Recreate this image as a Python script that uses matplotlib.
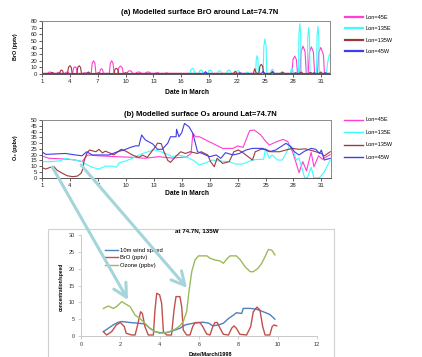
import matplotlib
matplotlib.use('Agg')
import matplotlib.pyplot as plt
from matplotlib.patches import Rectangle, ConnectionPatch
from matplotlib.lines import Line2D

plt.rcParams['font.family'] = ['Liberation Sans', 'DejaVu Sans']

# ---------------- data ----------------
series_labels = ['Lon=45E', 'Lon=135E', 'Lon=135W', 'Lon=45W']
series_colors = ['#ff3fd2', '#3ffcfc', '#9c3a3a', '#3e3ee6']
day_ticks = [1, 4, 7, 10, 13, 16, 19, 22, 25, 28, 31]

# (a) BrO (pptv)
bro_45e_day = [1.0, 1.6, 1.7, 1.85, 2.0, 2.1, 2.6, 2.68, 2.8, 2.92, 3.0, 3.5, 3.58, 3.7, 3.82, 3.9,
               4.3, 4.4, 4.55, 4.7, 4.8, 5.4, 5.6, 5.8, 6.3, 6.4, 6.55, 6.7, 6.8, 7.2, 7.28, 7.4, 7.52, 7.6,
               8.25, 8.35, 8.5, 8.65, 8.75, 9.15, 9.27, 9.45, 9.63, 9.75, 10.15, 10.27, 10.45, 10.63, 10.75,
               11.1, 11.22, 11.4, 11.58, 11.7, 12.1, 12.22, 12.4, 12.58, 12.7, 13.1, 13.4, 13.7, 14.2, 14.4, 14.6,
               27.9, 28.02, 28.2, 28.38, 28.5, 28.75, 28.89, 29.1, 29.31, 29.45, 29.65, 29.79, 30.0, 30.21, 30.35,
               30.65, 30.79, 31.0, 31.2, 31.3, 31.4, 31.95]
bro_45e_val = [1, 1, 2.4, 3, 2.4, 1, 1, 2, 2.5, 2, 1, 1, 2.4, 3, 2.4, 1,
               1, 9, 11, 9, 1, 1, 2, 1, 1, 16, 20, 16, 1, 1, 6.5, 8, 6.5, 1,
               1, 16, 20, 16, 1, 1, 9.6, 12, 9.6, 1, 1, 4, 5, 4, 1,
               1, 2.5, 3, 2.5, 1, 1, 2.5, 3, 2.5, 1, 1, 2, 1, 1, 1.8, 1,
               1, 22, 27, 22, 1, 1, 34, 42, 34, 1, 1, 33, 41, 33, 1,
               1, 32, 40, 33, 28, 1, 1]

bro_135e_day = [1.0, 16.95, 17.05, 17.2, 17.35, 17.45, 17.85, 17.95, 18.1, 18.25, 18.35,
                18.85, 18.95, 19.1, 19.25, 19.35, 19.85, 19.95, 20.1, 20.25, 20.35,
                20.85, 20.95, 21.1, 21.25, 21.35, 21.85, 21.95, 22.1, 22.25, 22.35,
                22.9, 23.1, 23.3, 24.0, 24.06, 24.15, 24.24, 24.3, 24.8, 24.88, 25.0, 25.12, 25.2,
                25.6, 25.68, 25.8, 25.92, 26.0, 26.6, 26.8, 27.0, 27.75, 27.81, 27.9, 27.99, 28.05,
                28.6, 28.66, 28.75, 28.84, 28.9, 29.55, 29.61, 29.7, 29.79, 29.85,
                30.55, 30.61, 30.7, 30.79, 30.85, 31.6, 31.78, 31.95]
bro_135e_val = [0.5, .5, 6.9, 8.6, 6.9, .5, .5, 4.8, 6, 4.8, .5,
                .5, 4.8, 6, 4.8, .5, .5, 4, 5, 4, .5,
                .5, 4.8, 6, 4.8, .5, .5, 4, 5, 4, .5,
                .5, 3, .5, .5, 22, 27.6, 22, .5, .5, 42, 53, 42, .5,
                .5, 5.6, 7, 5.6, .5, .5, 3, .5, .5, 6.9, 8.6, 6.9, .5,
                .5, 61, 76, 61, .5, .5, 56, 70, 56, .5,
                .5, 58, 72, 58, .5, .5, 20, 30]

bro_135w_day = [1.0, 1.9, 2.1, 2.3, 2.9, 2.98, 3.1, 3.22, 3.3, 3.75, 3.85, 4.0, 4.15, 4.25,
                4.75, 4.85, 5.0, 5.15, 5.25, 5.8, 6.0, 6.2, 6.9, 7.1, 7.3, 8.75, 8.85, 9.0, 9.15, 9.25,
                9.8, 10.0, 10.2, 21.6, 21.8, 22.0, 23.75, 23.9, 24.05, 24.35, 24.45, 24.6, 24.75, 24.85,
                25.6, 25.8, 26.0, 26.7, 26.9, 27.1, 28.7, 28.9, 29.1, 29.7, 29.9, 30.1, 30.8, 31.0, 31.2, 31.95]
bro_135w_val = [0.8, .8, 2.5, .8, .8, 4.8, 6, 4.8, .8, .8, 10, 12.5, 10, .8,
                .8, 10, 12.5, 10, .8, .8, 3, .8, .8, 2, .8, .8, 6.9, 8.6, 6.9, .8,
                .8, 2, .8, .8, 4, .8, .8, 8, 1.5, .8, 11.7, 14.6, 11.7, .8,
                .8, 4, .8, .8, 3, .8, .8, 3, .8, .8, 2.5, .8, .8, 3, .8, .8]

bro_45w_day = [1.0, 5.7, 5.9, 6.1, 18.4, 18.6, 18.8, 22.1, 22.3, 22.5, 24.6, 24.8, 25.0,
               25.6, 25.8, 26.0, 28.1, 28.3, 28.5, 30.1, 30.3, 30.5, 31.3, 31.5, 31.7, 31.95]
bro_45w_val = [0.5, .5, 1.5, .5, .5, 3.5, .5, .5, 2, .5, .5, 4, .5,
               .5, 2.5, .5, .5, 2, .5, .5, 2, .5, .5, 2, .5, .5]

# (b) O3 (ppbv)
o3_45e_day = [1, 1.75, 3.5, 4.6, 5.3, 5.6, 5.9, 7, 9, 11, 12, 13.5, 15, 16.5, 17.0, 17.2, 17.5, 17.9,
              19.3, 20.4, 21.5, 22.0, 22.6, 22.9, 23.3, 23.8, 24.5, 24.9, 25.4, 26.2, 26.9, 27.4, 27.9,
              28.3, 28.6, 29.0, 29.4, 29.9, 30.2, 30.7, 31.1, 31.95]
o3_45e_val = [18.8, 16.8, 16.2, 15.3, 13.9, 17, 19.7, 19, 18.2, 17.6, 16.8, 18.2, 17, 18, 21, 38.4, 35.5, 35.5,
              29.8, 25.4, 25.4, 27.5, 26.3, 32.7, 40.8, 41.3, 37, 32.7, 28.3, 31.2, 33.2, 31.2, 22.5,
              12.4, 4.3, 14, 6, 22, 9.5, 19, 16, 20]

o3_135e_day = [1, 1.9, 3.0, 3.5, 4.5, 5.3, 5.7, 6.4, 7.1, 7.8, 8.6, 9.0, 9.3, 10, 10.7, 11.4, 12.1, 12.9, 13.2,
               14.3, 15.0, 15.7, 16.4, 17.2, 17.9, 18.6, 19.3, 20.0, 21.1, 21.8, 22.5, 23.6, 24.3, 24.8,
               25.0, 25.4, 25.7, 26.3, 26.8, 27.2, 27.6, 27.9, 28.3, 28.6, 29.2, 29.5, 29.9, 30.2, 30.8,
               31.3, 31.95]
o3_135e_val = [13.9, 13.9, 14.7, 16.8, 15.3, 14, 11.8, 9, 7.5, 10, 10, 9, 13, 14.5, 16.8, 19.7, 21.7, 24, 24,
               21, 18.2, 19.7, 18.2, 15.3, 11, 13, 15.3, 14.5, 13.9, 11.8, 11.8, 15.3, 15.9, 16,
               25.4, 16.8, 19.7, 15.3, 15.3, 21, 28.3, 26, 15.3, 17, 0, 0, 9, 0, 0,
               5, 15.3]

o3_135w_day = [1, 1.4, 1.9, 2.3, 2.6, 3.2, 3.7, 4.3, 4.8, 5.2, 5.4, 5.5, 5.8, 6.1, 6.8, 7.1, 7.5, 7.8,
               8.4, 8.7, 9.5, 10, 10.7, 11.4, 11.8, 12.3, 12.9, 13.2, 13.4, 13.8, 14.1, 14.5, 14.8,
               15.4, 15.9, 16.4, 16.9, 17.7, 18.1, 18.8, 19.1, 19.5, 19.8, 20.4, 21.1, 21.6, 22.1,
               22.6, 23.6, 23.9, 24.5, 25, 25.6, 26.5, 27.2, 27.9, 28.6, 29.3, 30.2, 31.0, 31.3, 31.95]
o3_135w_val = [8.7, 7.5, 9, 9.5, 6.6, 3.8, 1.7, 0.9, 1.4, 3.8, 8, 13.9, 21, 24, 22.5, 24.6, 21.5, 23,
               21, 19.7, 24.6, 23, 19.7, 17.6, 19.5, 17.6, 24, 27, 30, 29.5, 22.5, 15, 13.3,
               18.8, 22.5, 21, 22.5, 21, 22.5, 19.7, 13.9, 9.5, 16.8, 12.4, 13.9, 22.5, 24,
               21.5, 15.3, 22.5, 24.6, 24.6, 22.5, 22.5, 24, 25.4, 24.6, 25, 23, 21, 18.8, 22.5]

o3_45w_day = [1, 1.4, 3.5, 4.6, 5.3, 5.8, 6.4, 8.2, 9.1, 9.8, 10.5, 11.1, 11.4, 11.7, 12.1, 12.9,
              13.4, 13.9, 14.5, 14.8, 15.4, 15.45, 15.7, 16.0, 16.3, 16.8, 17.2, 17.7, 18.2, 19.0,
              19.7, 20.2, 20.7, 21.5, 22.2, 22.9, 23.6, 24.7, 25.4, 26.1, 27.2, 27.7, 28.1, 28.6,
              29.2, 29.9, 30.4, 30.8, 31.0, 31.3, 31.95]
o3_45w_val = [22.5, 20.2, 21, 19.7, 19, 22.5, 19.7, 19.7, 22.5, 24, 26.3, 27.7, 27.5, 37, 32.7, 29.2,
              24.6, 24.6, 29.8, 35.5, 35.5, 42, 35.5, 39, 47, 44, 38.4, 22.5, 21, 18.2,
              19.7, 16.8, 21.7, 19.7, 21, 24, 25.4, 25.4, 22.5, 24, 29.8, 27, 22.5, 19.7,
              23, 25.4, 24.6, 21, 24, 15.3, 16.8]

# inset: at 74.7N, 135W
inset_labels = ['10m wind speed', 'BrO (pptv)', 'Ozone (ppbv)']
inset_colors = ['#4f81bd', '#c0504d', '#9bbb59']
wind_day = [1.14, 1.39, 1.64, 1.9, 2.07, 2.5, 2.9, 3.25, 3.5, 3.76, 4.0, 4.36, 4.7, 5.03, 5.3, 5.7,
            6.2, 6.5, 6.7, 7.0, 7.24, 7.5, 7.75, 7.9, 8.17, 8.25, 8.6, 8.9, 9.27, 9.6, 9.86]
wind_val = [1.3, 2.3, 3.3, 4.1, 4.3, 4.0, 3.8, 3.6, 2.3, 1.3, 1.0, 1.0, 1.6, 2.3, 3.3, 3.8,
            4.1, 3.8, 3.0, 3.3, 3.8, 5.2, 6.2, 6.9, 6.7, 8.2, 8.2, 8.0, 7.2, 6.4, 5.0]
brO_day = [1.14, 1.3, 1.56, 1.8, 2.0, 2.2, 2.3, 2.58, 2.75, 2.86, 3.03, 3.12, 3.25, 3.42, 3.68, 3.76,
           3.85, 4.0, 4.1, 4.19, 4.36, 4.6, 4.73, 4.83, 5.03, 5.12, 5.2, 5.37, 5.54, 5.68, 5.8, 6.05,
           6.19, 6.39, 6.56, 6.7, 6.81, 6.93, 7.07, 7.24, 7.5, 7.66, 7.78, 7.9, 8.08, 8.42, 8.63,
           8.76, 8.95, 9.1, 9.24, 9.36, 9.6, 9.72, 9.82, 9.95]
brO_val = [1.3, 0.3, 1.3, 3.3, 4.0, 2.8, 0.8, 0.3, 0.3, 2.8, 7.2, 6.7, 2.8, 0.3, 0.3, 7.7,
           12.7, 12.2, 9.7, 1.3, 0.3, 0.3, 7.7, 11.7, 11.7, 8.7, 1.8, 0.3, 0.3, 2.8, 4.0, 4.0,
           2.8, 0.6, 0.3, 2.8, 4.0, 4.0, 2.3, 0.5, 0.3, 2.3, 3.0, 2.3, 0.5, 0.3, 2.8,
           7.2, 8.6, 7.7, 2.8, 0.3, 0.3, 2.8, 3.3, 3.0]
ozone_day = [1.14, 1.39, 1.64, 1.8, 2.07, 2.3, 2.5, 2.75, 3.0, 3.25, 3.5, 3.76, 4.0, 4.27, 4.5, 4.78,
             5.03, 5.2, 5.37, 5.5, 5.63, 5.8, 5.97, 6.4, 6.56, 6.8, 7.07, 7.24, 7.4, 7.58, 7.9, 8.1,
             8.34, 8.6, 8.76, 9.0, 9.19, 9.36, 9.53, 9.7, 9.86]
ozone_val = [8.2, 8.9, 8.2, 8.7, 10.2, 9.4, 8.7, 6.2, 5.2, 3.8, 2.3, 1.3, 0.8, 1.0, 1.3, 2.0,
             3.0, 4.3, 7.2, 13.7, 19.1, 22.6, 23.8, 23.8, 23.1, 22.6, 22.3, 21.6, 22.8, 23.8, 23.8, 22.6,
             20.6, 19.1, 19.1, 20.1, 21.6, 23.6, 25.7, 25.5, 24.1]

# ---------------- figure ----------------
W, H = 422, 357
fig = plt.figure(figsize=(W / 100, H / 100), dpi=100)


def fx(px):
    return px / W


def fy(py):
    return 1 - py / H


frame_col = '#8a8a8a'


def style_panel(ax, ymax, ystep):
    ax.set_xlim(1, 32)
    ax.set_ylim(0, ymax)
    ax.set_xticks(day_ticks)
    ax.set_yticks(range(0, ymax + 1, ystep))
    ax.tick_params(labelsize=4.3, length=2, width=0.5, pad=1.5, colors='#222222')
    for s in ax.spines.values():
        s.set_color(frame_col)
        s.set_linewidth(0.7)
    ax.spines['left'].set_color('#555555')
    ax.spines['bottom'].set_color('#555555')


# panel (a)
ax_a = fig.add_axes([fx(42), fy(74), (330 - 42) / W, (74 - 21) / H])
for d, v, c in zip([bro_45e_day, bro_135e_day, bro_135w_day, bro_45w_day],
                   [bro_45e_val, bro_135e_val, bro_135w_val, bro_45w_val], series_colors):
    ax_a.plot(d, v, color=c, lw=0.8)
style_panel(ax_a, 80, 10)
fig.text(fx(200), fy(13), '(a) Modelled surface BrO around Lat=74.7N', fontsize=5.5,
         weight='bold', ha='center', va='center')
fig.text(fx(187), fy(93), 'Date in March', fontsize=4.8, weight='bold', ha='center', va='center')
fig.text(fx(15), fy(47), 'BrO (pptv)', fontsize=3.9, weight='bold', rotation=90, ha='center', va='center')
h_a = [Line2D([], [], color=c, lw=1.6) for c in series_colors]
ax_a.legend(h_a, series_labels, loc='upper left', bbox_to_anchor=(fx(345), fy(15)),
            bbox_transform=fig.transFigure, frameon=False, fontsize=4.0, handlelength=3.3,
            handletextpad=0.4, labelspacing=1.15, borderpad=0, borderaxespad=0)

# panel (b)
ax_b = fig.add_axes([fx(42), fy(177.7), (330.7 - 42) / W, (177.7 - 120) / H])
for d, v, c in zip([o3_45e_day, o3_135e_day, o3_135w_day, o3_45w_day],
                   [o3_45e_val, o3_135e_val, o3_135w_val, o3_45w_val], series_colors):
    ax_b.plot(d, v, color=c, lw=0.8)
style_panel(ax_b, 50, 5)
fig.text(fx(200), fy(114), '(b) Modelled surface O\u2083 around Lat=74.7N', fontsize=5.5,
         weight='bold', ha='center', va='center')
fig.text(fx(187), fy(194), 'Date in March', fontsize=4.8, weight='bold', ha='center', va='center')
fig.text(fx(15), fy(148), 'O\u2083 (ppbv)', fontsize=3.9, weight='bold', rotation=90, ha='center', va='center')
h_b = [Line2D([], [], color=c, lw=1.0) for c in series_colors]
ax_b.legend(h_b, series_labels, loc='upper left', bbox_to_anchor=(fx(344), fy(117.5)),
            bbox_transform=fig.transFigure, frameon=False, fontsize=4.0, handlelength=3.4,
            handletextpad=0.4, labelspacing=1.35, borderpad=0, borderaxespad=0)

# inset box
fig.add_artist(Rectangle((fx(48), fy(362)), (334 - 48) / W, (362 - 229) / H,
                         transform=fig.transFigure, facecolor='none', edgecolor='#d0d0d0', lw=0.8))

ax_c = fig.add_axes([fx(81), fy(336), (317 - 81) / W, (336 - 235) / H])
for d, v, c in zip([wind_day, brO_day, ozone_day], [wind_val, brO_val, ozone_val], inset_colors):
    ax_c.plot(d, v, color=c, lw=1.0)
ax_c.set_xlim(0, 12)
ax_c.set_ylim(0, 30)
ax_c.set_xticks(range(0, 13, 2))
ax_c.set_yticks(range(0, 31, 5))
ax_c.tick_params(labelsize=4.0, length=2, width=0.5, pad=2.5, color='#bfbfbf', labelcolor='#333333')
ax_c.spines['top'].set_visible(False)
ax_c.spines['right'].set_visible(False)
for s in ['left', 'bottom']:
    ax_c.spines[s].set_color('#bfbfbf')
    ax_c.spines[s].set_linewidth(0.6)
fig.text(fx(197), fy(231), 'at 74.7N, 135W', fontsize=4.5, weight='bold', ha='center', va='center')
fig.text(fx(61), fy(287), 'concentration/speed', fontsize=3.5, weight='bold', rotation=90,
         ha='center', va='center')
fig.text(fx(210), fy(354), 'Date/March/1998', fontsize=4.0, weight='bold', ha='center', va='center')
h_c = [Line2D([], [], color=c, lw=1.0) for c in inset_colors]
ax_c.legend(h_c, inset_labels, loc='upper left', bbox_to_anchor=(fx(105), fy(247.5)),
            bbox_transform=fig.transFigure, frameon=False, fontsize=4.2, handlelength=2.3,
            handletextpad=0.35, labelspacing=0.45, borderpad=0, borderaxespad=0)

# arrows linking panel (b) to the inset
arrow_col = '#a3d5da'
for (xa, ya), (xb, yb) in [((2.1, 9.3), (2.39, 10.7)), ((5.2, 11.0), (5.39, 14.3))]:
    cp = ConnectionPatch(xyA=(xa, ya), coordsA=ax_b.transData, xyB=(xb, yb), coordsB=ax_c.transData,
                         arrowstyle='->,head_length=0.95,head_width=0.5', mutation_scale=10,
                         color=arrow_col, lw=2.2, zorder=10)
    fig.add_artist(cp)

fig.savefig('out.png', dpi=100)
